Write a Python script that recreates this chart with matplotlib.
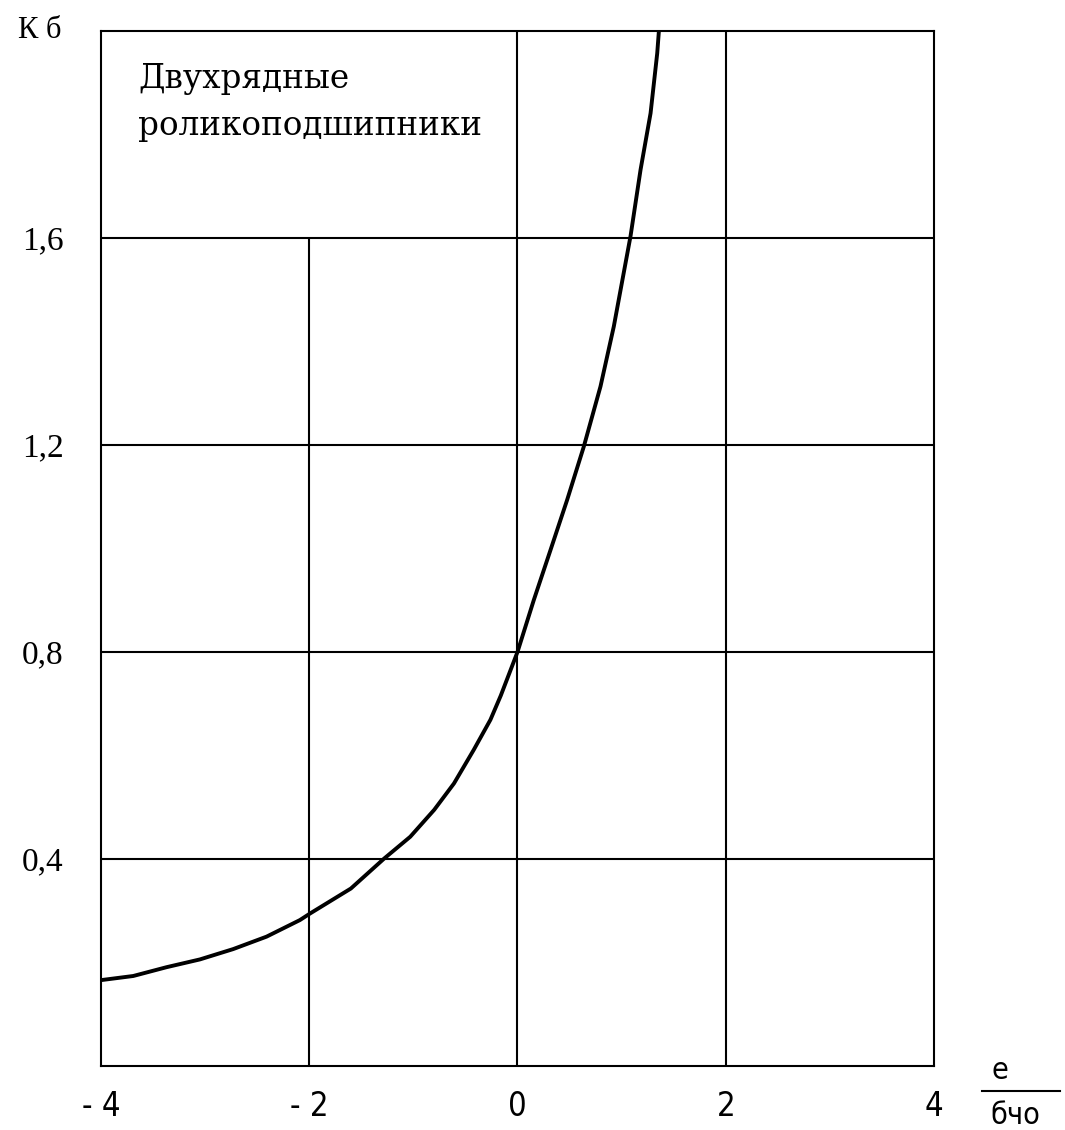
"""Kб vs e/бчо curve for double-row roller bearings."""

import matplotlib
matplotlib.use("Agg")
import matplotlib.pyplot as plt
from matplotlib.lines import Line2D

# curve
ecc = [-4.0, -3.69, -3.37, -3.05, -2.73, -2.41, -2.09, -1.99, -1.60, -1.28,
       -1.03, -0.80, -0.61, -0.42, -0.26, -0.16, 0.0, 0.156, 0.317, 0.477,
       0.637, 0.797, 0.925, 1.086, 1.182, 1.278, 1.342, 1.358]
kb = [0.166, 0.174, 0.191, 0.206, 0.226, 0.250, 0.282, 0.295, 0.343, 0.401,
      0.443, 0.495, 0.546, 0.611, 0.669, 0.716, 0.80, 0.900, 0.997, 1.094,
      1.197, 1.313, 1.429, 1.604, 1.732, 1.841, 1.957, 2.0]

xticks = [-4, -2, 0, 2, 4]
xticklabels = ["- 4", "- 2", "0", "2", "4"]
yticks = [0.4, 0.8, 1.2, 1.6]
yticklabels = ["0,4", "0,8", "1,2", "1,6"]

SERIF = ["Liberation Serif", "DejaVu Serif"]
NARROW = dict(family="DejaVu Sans", fontstretch="condensed")

fig = plt.figure(figsize=(10.65, 11.3), dpi=100)
ax = fig.add_axes([0.0948, 0.0566, 0.7822, 0.916])

ax.set_xlim(-4, 4)
ax.set_ylim(0, 2.0)

# grid: full lines except x=-2, which stops under the caption box
for y in yticks:
    ax.axhline(y, color="black", lw=1.5, zorder=1)
ax.vlines([0, 2], 0, 2.0, color="black", lw=1.5, zorder=1)
ax.vlines([-2], 0, 1.6, color="black", lw=1.5, zorder=1)

ax.plot(ecc, kb, color="black", lw=2.8, zorder=3, solid_joinstyle="round")

for s in ax.spines.values():
    s.set_linewidth(1.5)

ax.set_xticks(xticks)
ax.set_xticklabels(xticklabels, fontsize=23.5, **NARROW)
ax.set_yticks(yticks)
ax.set_yticklabels(yticklabels, family=SERIF, fontsize=24)
ax.tick_params(axis="x", length=0, pad=17)
ax.tick_params(axis="y", length=0, pad=27)

ax.text(-0.1, 1.0, "К б", transform=ax.transAxes, ha="left", va="center",
        family=SERIF, fontsize=22)

ax.text(-3.645, 1.89, "Двухрядные", family="DejaVu Serif", fontsize=23.5,
        va="baseline")
ax.text(-3.645, 1.799, "роликоподшипники", family="DejaVu Serif",
        fontsize=23.5, va="baseline")

# axis name as a fraction e / бчо
fig.text(0.939, 0.053, "e", fontsize=22, ha="center", va="center", **NARROW)
fig.add_artist(Line2D([0.922, 0.995], [0.0345, 0.0345], color="black",
                      lw=1.5, transform=fig.transFigure))
fig.text(0.953, 0.013, "бчо", fontsize=22, ha="center", va="center",
         **NARROW)

fig.savefig("out.png", dpi=100)
